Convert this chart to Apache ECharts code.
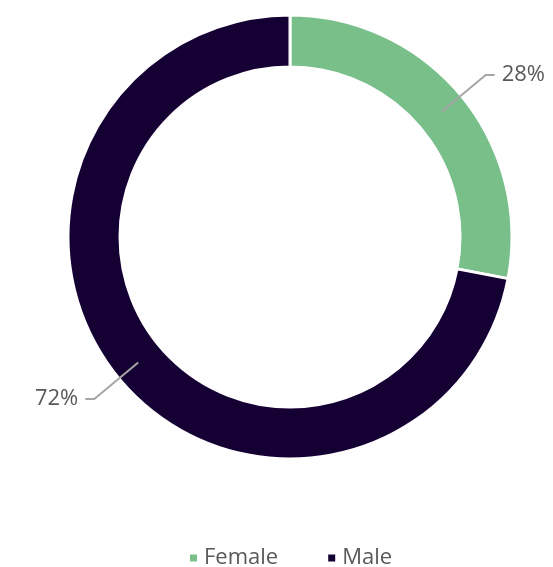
<!DOCTYPE html>
<html>
<head>
<meta charset="utf-8">
<style>
  html, body { margin: 0; padding: 0; background: #fff; }
  #main { width: 553px; height: 567px; }
</style>
</head>
<body>
<div id="main"></div>
<script src="https://cdn.jsdelivr.net/npm/echarts@6/dist/echarts.min.js"></script>
<script>
var categories = ['Female', 'Male'];
var shares = [28, 72];
var colors = ['#78BF8A', '#140033'];

var data = categories.map(function (name, i) {
  return { name: name, value: shares[i], itemStyle: { color: colors[i] } };
});

var chart = echarts.init(document.getElementById('main'));
chart.setOption({
  animation: false,
  legend: {
    top: 542,
    left: 183,
    itemWidth: 9,
    itemHeight: 9,
    itemGap: 48,
    icon: 'rect',
    textStyle: { fontFamily: 'Open Sans', fontSize: 22, color: '#595959', padding: [0, 0, 0, 1] },
    data: categories
  },
  series: [
    {
      // the ring itself
      type: 'pie',
      z: 1,
      center: [290, 237],
      radius: [170, 222],
      startAngle: 90,
      clockwise: true,
      silent: true,
      label: { show: false },
      labelLine: { show: false },
      itemStyle: { borderColor: '#fff', borderWidth: 3 },
      data: data
    },
    {
      // invisible copy at mid-ring so leader lines start inside the band
      type: 'pie',
      z: 5,
      center: [290, 237],
      radius: [0, 197],
      startAngle: 90,
      clockwise: true,
      silent: true,
      itemStyle: { color: 'rgba(0,0,0,0)' },
      label: {
        show: true,
        formatter: '{c}%',
        fontFamily: 'Open Sans',
        fontSize: 22,
        color: '#595959',
        overflow: 'none',
        distanceToLabelLine: 7
      },
      labelLine: {
        show: true,
        length: 57,
        length2: 9,
        lineStyle: { color: '#a6a6a6', width: 2 }
      },
      data: data.map(function (d) {
        return { name: d.name, value: d.value };
      })
    }
  ]
});
</script>
</body>
</html>
